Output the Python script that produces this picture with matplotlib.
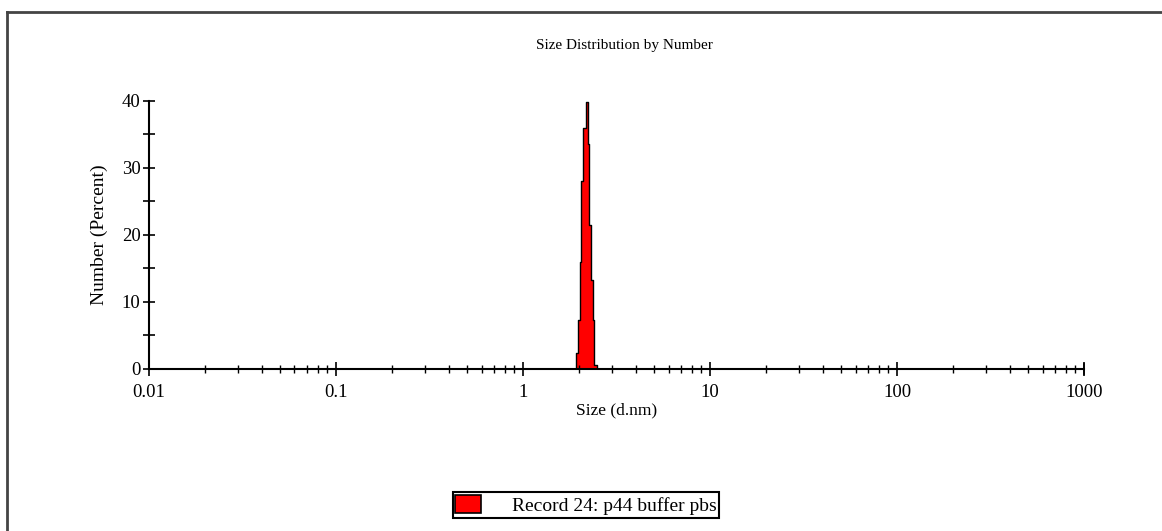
import numpy as np
import matplotlib
matplotlib.use('Agg')
import matplotlib.pyplot as plt
from matplotlib.patches import Patch
from matplotlib.lines import Line2D

plt.rcParams['font.family'] = ['Liberation Serif', 'DejaVu Serif']
plt.rcParams['font.size'] = 13

# step edges (d.nm) and number % for each step
size_edges = [1.918, 1.961, 2.020, 2.045, 2.086, 2.170, 2.224, 2.266, 2.313, 2.360, 2.410, 2.501]
number_pct = [2.4, 7.3, 16.0, 28.0, 36.0, 39.9, 33.6, 21.5, 13.3, 7.3, 0.6, 0.0]
x_ticks = [0.01, 0.1, 1, 10, 100, 1000]
x_ticklabels = ['0.01', '0.1', '1', '10', '100', '1000']
y_ticks = [0, 10, 20, 30, 40]
record_label = 'Record 24: p44 buffer pbs'

fig = plt.figure(figsize=(11.62, 5.31), dpi=100)
ax = fig.add_axes([0.1282, 0.3051, 0.8047, 0.5047])

ax.fill_between(size_edges, number_pct, step='post', facecolor='#ff0000',
                edgecolor='black', linewidth=1.0)

ax.set_xscale('log')
ax.set_xlim(0.01, 1000)
ax.set_ylim(0, 40)
ax.set_xticks(x_ticks)
ax.set_xticklabels(x_ticklabels)
ax.set_yticks(y_ticks)
ax.set_yticks([5, 15, 25, 35], minor=True)

for side in ['top', 'right']:
    ax.spines[side].set_visible(False)
for side in ['left', 'bottom']:
    ax.spines[side].set_linewidth(1.5)

ax.tick_params(axis='both', which='major', direction='inout', length=10, width=1.2,
               labelsize=13.5, pad=6)
ax.tick_params(axis='y', which='major', length=8, pad=2)
ax.tick_params(axis='y', which='minor', direction='inout', length=8, width=1.2)
ax.tick_params(axis='x', which='minor', direction='inout', length=6, width=1.0)

# end tick at 1000
ax.plot([1000, 1000], [-0.7, 0.7], color='black', lw=1.2, clip_on=False)

ax.set_xlabel('Size (d.nm)', fontsize=12.5, labelpad=1)
ax.set_ylabel('Number (Percent)', fontsize=14, labelpad=10)
fig.text(0.5375, 1 - 46 / 531, 'Size Distribution by Number', ha='center', va='center',
         fontsize=11)

handle = Patch(facecolor='#ff0000', edgecolor='black', linewidth=1.2)
leg = fig.legend([handle], [record_label], loc='center', bbox_to_anchor=(586 / 1162, 1 - 505 / 531),
                 fancybox=False, edgecolor='black', framealpha=1, fontsize=14,
                 handlelength=1.3, handleheight=1.0, handletextpad=1.6,
                 borderpad=0.15, borderaxespad=0)
leg.get_frame().set_linewidth(1.5)

# outer frame lines (top and left)
fig.add_artist(Line2D([7 / 1162, 1], [1 - 12 / 531, 1 - 12 / 531], color='#444444', lw=2,
                      transform=fig.transFigure))
fig.add_artist(Line2D([7 / 1162, 7 / 1162], [0, 1 - 12 / 531], color='#444444', lw=2,
                      transform=fig.transFigure))

fig.savefig('out.png', dpi=100)
